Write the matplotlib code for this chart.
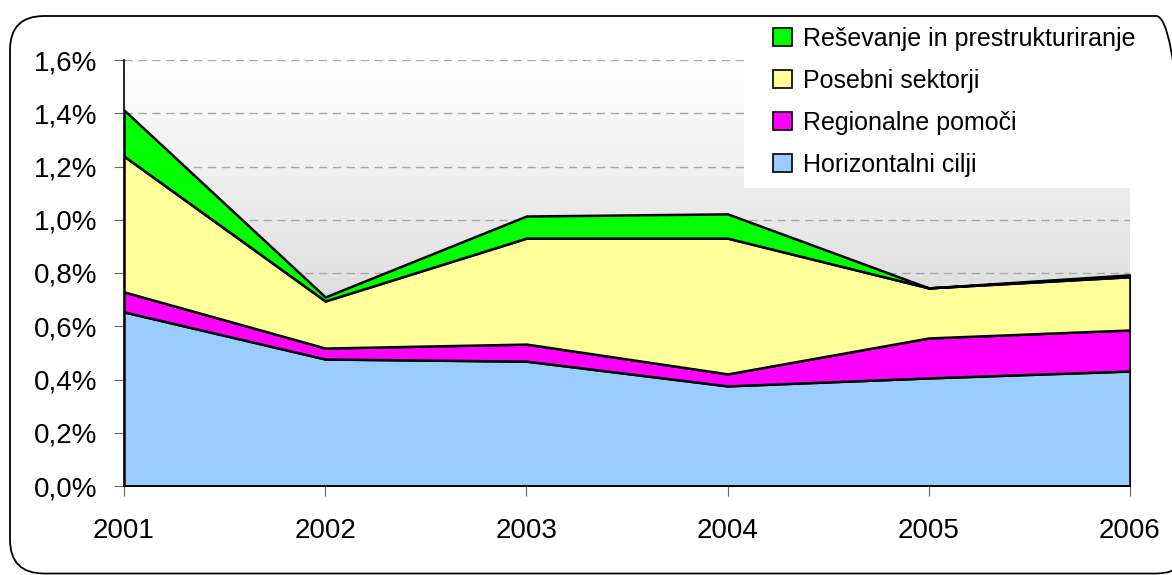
import numpy as np
import matplotlib
matplotlib.use("Agg")
import matplotlib.pyplot as plt
from matplotlib.patches import FancyBboxPatch, Patch, Rectangle
from matplotlib.transforms import IdentityTransform

# state aid as share of GDP, stacked by category
years = [2001, 2002, 2003, 2004, 2005, 2006]
horizontalni = [0.654, 0.477, 0.469, 0.376, 0.406, 0.432]
regionalne = [0.075, 0.041, 0.064, 0.045, 0.150, 0.154]
posebni = [0.510, 0.177, 0.398, 0.510, 0.188, 0.200]
resevanje = [0.173, 0.015, 0.083, 0.091, 0.000, 0.007]

labels = ["Horizontalni cilji", "Regionalne pomoči", "Posebni sektorji",
          "Reševanje in prestrukturiranje"]
colors = ["#99ccff", "#ff00ff", "#ffff99", "#00ff00"]

yticks = [0.0, 0.2, 0.4, 0.6, 0.8, 1.0, 1.2, 1.4, 1.6]
ytick_labels = ["0,0%", "0,2%", "0,4%", "0,6%", "0,8%", "1,0%", "1,2%", "1,4%", "1,6%"]

plt.rcParams['font.family'] = ['Liberation Sans', 'DejaVu Sans']

W, H = 1172, 575
fig = plt.figure(figsize=(W/100, H/100), dpi=100)
ax = fig.add_axes([124/W, 1-486/H, (1130-124)/W, (486-60)/H])
ax.set_facecolor("white")

# gradient background: white at top, grey at bottom
grad = np.linspace(1, 0, 256).reshape(-1, 1)
ax.imshow(grad, extent=[years[0], years[-1], 0, 1.6], aspect='auto',
          cmap=matplotlib.colors.LinearSegmentedColormap.from_list("g", ["#c4c4c4", "#ffffff"]),
          vmin=0, vmax=1, zorder=0, origin='upper')

ax.stackplot(years, horizontalni, regionalne, posebni, resevanje,
             colors=colors, edgecolor="black", linewidth=1.8, zorder=3)

ax.set_xlim(years[0], years[-1])
ax.set_ylim(0, 1.6)
ax.set_yticks(yticks)
ax.set_yticklabels(ytick_labels)
ax.set_xticks(years)
ax.set_xticklabels([str(y) for y in years])
ax.yaxis.grid(True, color="#a8a8a8", linestyle=(0, (6, 4)), linewidth=1, zorder=1)
ax.set_axisbelow(True)

for s in ["top", "right"]:
    ax.spines[s].set_visible(False)
for s in ["left", "bottom"]:
    ax.spines[s].set_color("black")
    ax.spines[s].set_linewidth(1.2)
    ax.spines[s].set_zorder(5)

ax.tick_params(axis="both", direction="out", length=7, color="#666666", labelsize=20)
ax.tick_params(axis="y", pad=12)
ax.tick_params(axis="x", pad=16)

# white legend box sitting over the top right of the plot
fig.patches.append(Rectangle((744, H-188), 1131-744, 188-15, transform=IdentityTransform(),
                             facecolor="white", edgecolor="none", zorder=6))

# legend, reversed order
handles = [Patch(facecolor=c, edgecolor="black", linewidth=1.2) for c in colors][::-1]
leg = fig.legend(handles, labels[::-1], loc="upper left",
                 bbox_to_anchor=(773/W, 1-27/H),
                 frameon=False,
                 prop={'family': ['Liberation Sans Narrow', 'Liberation Sans'], 'size': 18},
                 handlelength=0.75, handleheight=0.75, handletextpad=0.45,
                 labelspacing=0.72, borderpad=0, borderaxespad=0)
leg.set_zorder(7)

# rounded frame around the whole chart (right edge runs off the image)
frame = FancyBboxPatch((10, 1.5), 1190-10, H-16-1.5,
                       boxstyle="round,pad=0,rounding_size=34",
                       transform=IdentityTransform(), facecolor="none",
                       edgecolor="black", linewidth=1.3, zorder=10)
fig.patches.append(frame)

fig.savefig("out.png", dpi=100)
